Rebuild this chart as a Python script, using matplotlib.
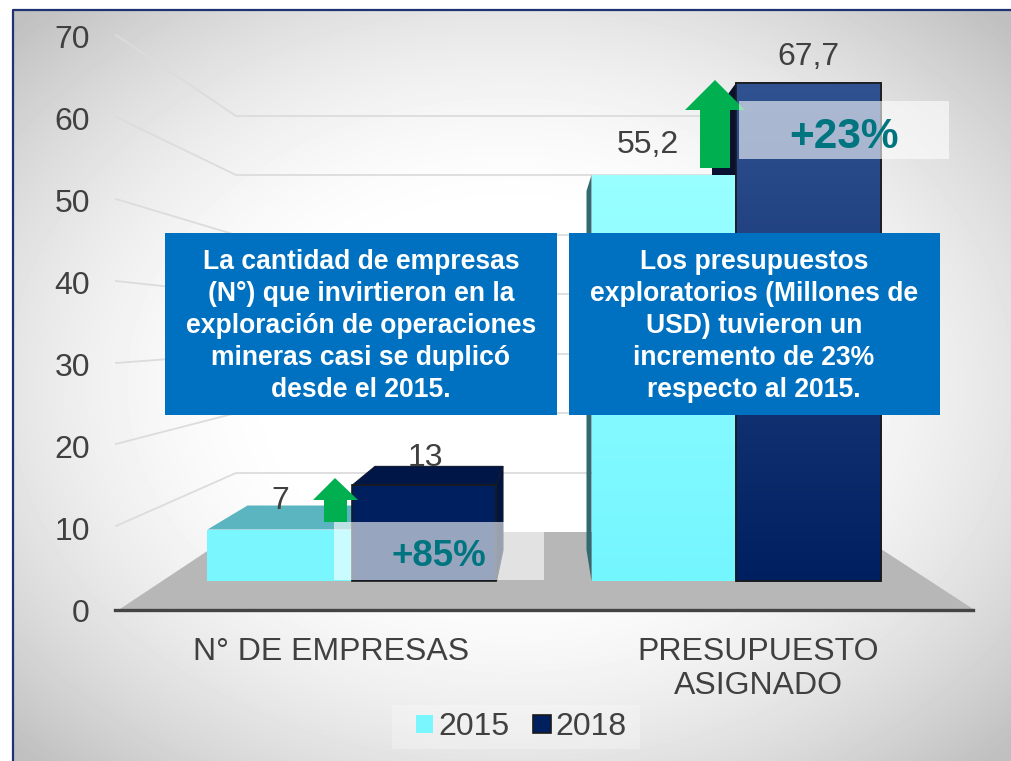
import matplotlib
matplotlib.use('Agg')
import matplotlib.pyplot as plt
import numpy as np
from matplotlib.patches import Rectangle, Polygon

plt.rcParams['font.family'] = ['Liberation Sans', 'DejaVu Sans']

# data
categories = ['N° DE EMPRESAS', 'PRESUPUESTO\nASIGNADO']
years = ['2015', '2018']
values_2015 = [7, 55.2]
values_2018 = [13, 67.7]
labels_2015 = ['7', '55,2']
labels_2018 = ['13', '67,7']
y_ticks = [0, 10, 20, 30, 40, 50, 60, 70]
box_left = ['La cantidad de empresas', '(N°) que invirtieron en la',
            'exploración de operaciones', 'mineras casi se duplicó', 'desde el 2015.']
box_right = ['Los presupuestos', 'exploratorios (Millones de',
             'USD) tuvieron un', 'incremento de 23%', 'respecto al 2015.']
change_labels = ['+85%', '+23%']

W, H = 1012, 761
CYAN = '#7AF6FF'
NAVY = '#001F5F'
GREY = '#404040'
TEAL = '#007580'
GREEN = '#00B050'

fig = plt.figure(figsize=(W / 100, H / 100), dpi=100)

#background layer in pixel coords
ax_bg = fig.add_axes([0, 0, 1, 1], zorder=0)
ax_bg.set_xlim(0, W)
ax_bg.set_ylim(H, 0)
ax_bg.axis('off')

xx, yy = np.meshgrid(np.arange(W), np.arange(H))
r = np.sqrt(((xx - 510) / 500.0)**2 + ((yy - 385) / 375.0)**2) / np.sqrt(2)
shade = 1 - 0.25 * np.clip((r - 0.3) / 0.68, 0, 1)**1.7
ax_bg.imshow(shade, cmap='gray', vmin=0, vmax=1, extent=[0, W, H, 0], aspect='auto', zorder=0)
ax_bg.add_patch(Rectangle((0, 0), W, 9, fc='white', ec='none', zorder=1))
ax_bg.add_patch(Rectangle((0, 0), 12, H, fc='white', ec='none', zorder=1))
ax_bg.plot([13, 13, W], [H, 10, 10], color='#1F3272', lw=1.6, zorder=2)

#wall gridlines, side wall then back wall
front_y = [610, 528, 446, 365, 283, 201, 119, 37]
back_y = [532, 473, 413, 354, 294, 235, 175, 116]
for i in range(1, len(y_ticks)):
    ax_bg.plot([116, 236, 860], [front_y[i] - 2, back_y[i], back_y[i]],
               color='#dcdcdc', lw=1.3, zorder=3, solid_joinstyle='miter')

#floor
ax_bg.add_patch(Polygon([(120, 609), (236, 532), (855, 532), (973, 609)],
                        fc='#B7B7B7', ec='none', zorder=4))

#pale box behind the legend
ax_bg.add_patch(Rectangle((392, 705), 248, 44, fc='white', alpha=0.25, ec='none', zorder=4))

#y axis labels, separate scale from the bars because of the 3d look
ax_y = fig.add_axes([115 / W, 1 - 610 / H, 858 / W, (610 - 37) / H], zorder=1)
ax_y.patch.set_alpha(0)
ax_y.set_ylim(0, 70)
ax_y.set_yticks(y_ticks)
ax_y.set_xticks([])
ax_y.tick_params(axis='y', length=0, pad=18, labelsize=23, labelcolor=GREY)
for s in ['top', 'right', 'left']:
    ax_y.spines[s].set_visible(False)
ax_y.spines['bottom'].set_color('#444444')
ax_y.spines['bottom'].set_linewidth(2.4)

#bars, axes covers the whole figure, 1 unit = 384 px in x and 7.355 px in y
px = 1 / 384.0
py = 1 / 7.355
ax = fig.add_axes([0, 0, 1, 1], zorder=2)
ax.patch.set_alpha(0)
ax.set_xlim(-352 * px, (W - 352) * px)
ax.set_ylim(-(H - 581) * py, 581 * py)
ax.axis('off')

x = np.arange(len(categories))
width = 144.5 * px

#3d faces behind the bars
v = values_2015[0]
x0 = x[0] - width
ax.fill([x0, x0 + 40 * px, x0 + 150 * px, x0 + width], [v, v + 24 * py, v + 24 * py, v],
        color='#5BB5C0', lw=0, zorder=1)
v = values_2018[0]
x0 = x[0]
ax.fill([x0, x0 + 23 * px, x0 + 151 * px, x0 + width], [v, v + 19 * py, v + 19 * py, v],
        color='#001646', ec='#111a30', lw=0.8, zorder=1)
ax.fill([x0 + width, x0 + 151 * px, x0 + 151 * px, x0 + width], [v, v + 19 * py, 31 * py, 0],
        color='#00153F', ec='#111a30', lw=0.8, zorder=1)
v = values_2015[1]
x0 = x[1] - width
ax.fill([x0, x0 - 5 * px, x0 - 5 * px, x0], [v, v - 16 * py, 31 * py, 0],
        color='#2F6B73', lw=0, zorder=1)
v = values_2018[1]
x0 = x[1]
ax.fill([x0, x0 - 24 * px, x0 - 24 * px, x0], [v, v - 33 * py, values_2015[1], values_2015[1]],
        color='#0A1030', lw=0, zorder=1)

bars_2015 = ax.bar(x - width / 2, values_2015, width, color=CYAN, lw=0, zorder=2, label=years[0])
bars_2018 = ax.bar(x + width / 2, values_2018, width, color=NAVY, edgecolor='#1a1a1a', lw=1.2,
                   zorder=3, label=years[1])

#gradient fill on the tall pair only
def gradient_bar(bar, top, bottom, zorder):
    c1 = np.array(matplotlib.colors.to_rgb(top))
    c2 = np.array(matplotlib.colors.to_rgb(bottom))
    t = np.linspace(0, 1, 256)[:, None, None]
    img = (1 - t) * c1[None, None, :] + t * c2[None, None, :]
    ax.imshow(img, extent=[bar.get_x(), bar.get_x() + bar.get_width(), 0, bar.get_height()],
              aspect='auto', zorder=zorder)

lims = ax.get_xlim(), ax.get_ylim()
gradient_bar(bars_2015[1], '#99FFFF', '#74F6FF', 2.5)
gradient_bar(bars_2018[1], '#315290', '#001F60', 3.5)
ax.add_patch(Rectangle((x[1], 0), width, values_2018[1], fc='none', ec='#1a1a1a', lw=1.2, zorder=3.6))
ax.set_xlim(lims[0])
ax.set_ylim(lims[1])

#overlay layer, again in pixel coords
top = fig.add_axes([0, 0, 1, 1], zorder=3)
top.patch.set_alpha(0)
top.set_xlim(0, W)
top.set_ylim(H, 0)
top.axis('off')

#arrows
top.add_patch(Polygon([(335, 478), (358, 500), (347, 500), (347, 522), (324, 522), (324, 500), (313, 500)],
                      fc=GREEN, ec='none', zorder=2))
top.add_patch(Polygon([(715, 80), (745, 110), (730, 110), (730, 168), (700, 168), (700, 110), (685, 110)],
                      fc=GREEN, ec='none', zorder=2))

#translucent change boxes
top.add_patch(Rectangle((334, 522), 210, 58, fc='white', alpha=0.6, ec='none', zorder=3))
top.add_patch(Rectangle((739, 101), 210, 58, fc='white', alpha=0.6, ec='none', zorder=3))
top.text(439, 556, change_labels[0], color=TEAL, fontsize=26.5, fontweight='bold',
         ha='center', va='center', zorder=4)
top.text(844, 137, change_labels[1], color=TEAL, fontsize=30.5, fontweight='bold',
         ha='center', va='center', zorder=4)

#blue text boxes
top.add_patch(Rectangle((165, 233), 392, 182, fc='#0070C0', ec='none', zorder=5))
top.add_patch(Rectangle((569, 233), 371, 182, fc='#0070C0', ec='none', zorder=5))
for i in range(5):
    top.text(361, 262 + 32 * i, box_left[i], color='white', fontsize=19.1, fontweight='bold',
             ha='center', va='center', zorder=6)
    top.text(754, 262 + 32 * i, box_right[i], color='white', fontsize=19.1, fontweight='bold',
             ha='center', va='center', zorder=6)

#data labels
top.text(280, 501, labels_2015[0], color=GREY, fontsize=23, ha='center', va='center', zorder=6)
top.text(425, 458, labels_2018[0], color=GREY, fontsize=23, ha='center', va='center', zorder=6)
top.text(648, 145, labels_2015[1], color=GREY, fontsize=23, ha='center', va='center', zorder=6)
top.text(808, 57, labels_2018[1], color=GREY, fontsize=23, ha='center', va='center', zorder=6)

#category labels
top.text(331, 652, categories[0], color=GREY, fontsize=23, ha='center', va='center', zorder=6)
top.text(758, 669, categories[1], color=GREY, fontsize=23, ha='center', va='center',
         linespacing=1.2, zorder=6)

#legend
leg = ax.legend(handles=[bars_2015, bars_2018], labels=years, ncol=2, fontsize=23,
                labelcolor=GREY, loc='center', bbox_to_anchor=(521 / W, 1 - 727 / H),
                frameon=False, handlelength=0.55, handleheight=0.5, handletextpad=0.15,
                columnspacing=0.75, borderpad=0.25)

fig.savefig('out.png', dpi=100)
